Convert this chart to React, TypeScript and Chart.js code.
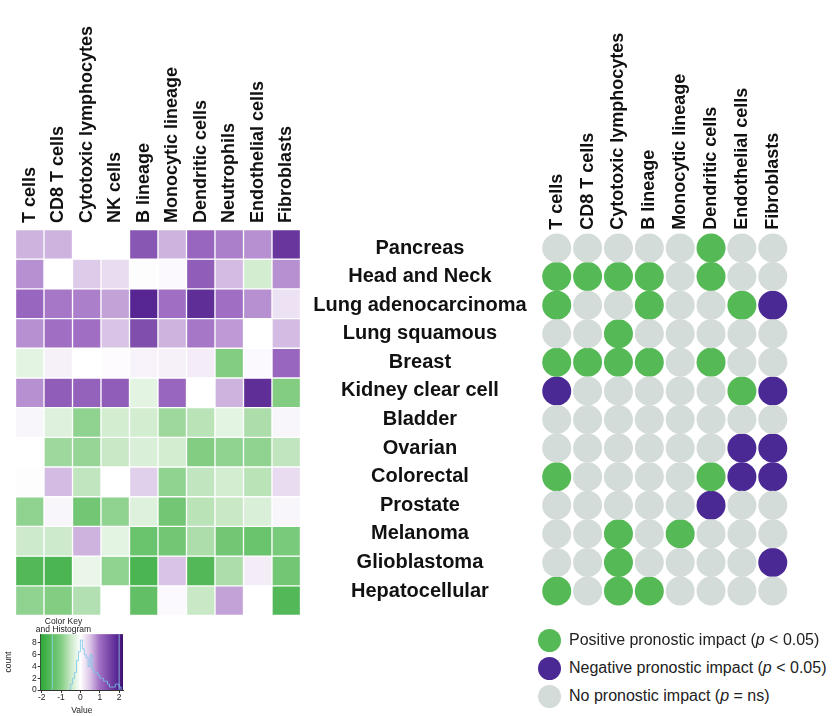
import React, { useEffect, useRef } from 'react';
import { Chart, registerables } from 'chart.js';

Chart.register(...registerables);

const FONT = "'Liberation Sans', Arial, Helvetica, sans-serif";

// ---------- categories ----------
const heatCols = ['T cells', 'CD8 T cells', 'Cytotoxic lymphocytes', 'NK cells', 'B lineage', 'Monocytic lineage', 'Dendritic cells', 'Neutrophils', 'Endothelial cells', 'Fibroblasts'];
const dotCols = ['T cells', 'CD8 T cells', 'Cytotoxic lymphocytes', 'B lineage', 'Monocytic lineage', 'Dendritic cells', 'Endothelial cells', 'Fibroblasts'];
const cancers = ['Pancreas', 'Head and Neck', 'Lung adenocarcinoma', 'Lung squamous', 'Breast', 'Kidney clear cell', 'Bladder', 'Ovarian', 'Colorectal', 'Prostate', 'Melanoma', 'Glioblastoma', 'Hepatocellular'];

// ---------- heatmap values (z-score, -2 green .. +2 purple) ----------
const heatPancreas = [0.6, 0.6, 0, 0, 1.3, 0.6, 1.1, 0.9, 0.8, 1.7];
const heatHeadNeck = [0.8, 0, 0.45, 0.3, 0.02, 0.05, 1.2, 0.55, -0.4, 0.8];
const heatLungAdeno = [1.1, 0.95, 0.9, 0.7, 1.9, 1.0, 1.8, 1.0, 0.8, 0.25];
const heatLungSquam = [0.8, 1.0, 1.0, 0.5, 1.4, 0.6, 0.95, 0.75, 0, 0.55];
const heatBreast = [-0.25, 0.12, 0, 0.03, 0.1, 0.12, 0.15, -1.0, 0.05, 1.1];
const heatKidney = [0.8, 1.2, 1.15, 1.2, -0.25, 1.1, 0, 0.6, 1.8, -1.0];
const heatBladder = [0.08, -0.3, -0.9, -0.4, -0.4, -0.8, -0.6, -0.25, -0.7, 0.08];
const heatOvarian = [0, -0.8, -0.85, -0.5, -0.35, -0.4, -1.0, -0.9, -0.9, -0.55];
const heatColorectal = [0.02, 0.55, -0.55, 0, 0.4, -0.9, -0.55, -0.4, -0.6, 0.3];
const heatProstate = [-0.9, 0.08, -1.2, -0.9, -0.3, -1.2, -0.6, -0.5, -0.35, 0.08];
const heatMelanoma = [-0.45, -0.45, 0.6, -0.25, -1.3, -1.2, -0.7, -1.2, -1.3, -1.1];
const heatGlioblastoma = [-1.6, -1.7, -0.2, -0.9, -1.7, 0.5, -1.6, -0.7, 0.15, -1.2];
const heatHepato = [-0.9, -1.0, -0.65, 0, -1.4, 0.05, -0.5, 0.7, 0, -1.6];
const heatRows = [heatPancreas, heatHeadNeck, heatLungAdeno, heatLungSquam, heatBreast, heatKidney, heatBladder, heatOvarian, heatColorectal, heatProstate, heatMelanoma, heatGlioblastoma, heatHepato];

// ---------- prognostic impact (1 positive, -1 negative, 0 ns) ----------
const dotPancreas = [0, 0, 0, 0, 0, 1, 0, 0];
const dotHeadNeck = [1, 1, 1, 1, 0, 1, 0, 0];
const dotLungAdeno = [1, 0, 0, 1, 0, 0, 1, -1];
const dotLungSquam = [0, 0, 1, 0, 0, 0, 0, 0];
const dotBreast = [1, 1, 1, 1, 0, 1, 0, 0];
const dotKidney = [-1, 0, 0, 0, 0, 0, 1, -1];
const dotBladder = [0, 0, 0, 0, 0, 0, 0, 0];
const dotOvarian = [0, 0, 0, 0, 0, 0, -1, -1];
const dotColorectal = [1, 0, 0, 0, 0, 1, -1, -1];
const dotProstate = [0, 0, 0, 0, 0, -1, 0, 0];
const dotMelanoma = [0, 0, 1, 0, 1, 0, 0, 0];
const dotGlioblastoma = [0, 0, 1, 0, 0, 0, 0, -1];
const dotHepato = [1, 0, 1, 1, 0, 0, 0, 0];
const dotRows = [dotPancreas, dotHeadNeck, dotLungAdeno, dotLungSquam, dotBreast, dotKidney, dotBladder, dotOvarian, dotColorectal, dotProstate, dotMelanoma, dotGlioblastoma, dotHepato];

// ---------- color key histogram ----------
const histBins = [-0.6, -0.5, -0.4, -0.3, -0.2, -0.1, 0, 0.1, 0.2, 0.3, 0.4, 0.5, 0.6, 0.7, 0.8, 0.9, 1.0, 1.1, 1.2, 1.3, 1.4, 1.5, 1.6, 1.7, 1.8, 1.9, 2.0, 2.1];
const histCounts = [0, 1, 2, 3, 5, 6.5, 8.5, 7, 6, 5.5, 4, 6, 3.5, 3, 3, 2.5, 2, 2, 1.5, 1.5, 1, 0.5, 0.5, 0.5, 1, 1, 0.5, 0];
const keyLines = [-1.45, 2.0];
const keyTicksX = [-2, -1, 0, 1, 2];
const keyTicksY = [0, 2, 4, 6, 8];

// ---------- styles ----------
const stopVals = [-2, -1, -0.5, 0, 0.5, 1, 2];
const stopRGB = [[50, 170, 60], [130, 205, 130], [200, 232, 198], [255, 255, 255], [218, 196, 230], [160, 110, 195], [80, 30, 140]];
const POS = '#55b955';
const NEG = '#4b2995';
const NS = '#d3dcd8';

function valueColor(v: number): string {
  const x = Math.max(stopVals[0], Math.min(stopVals[stopVals.length - 1], v));
  for (let i = 0; i < stopVals.length - 1; i++) {
    if (x <= stopVals[i + 1]) {
      const t = (x - stopVals[i]) / (stopVals[i + 1] - stopVals[i]);
      const a = stopRGB[i], b = stopRGB[i + 1];
      const c = a.map((ai, k) => Math.round(ai + (b[k] - ai) * t));
      return `rgb(${c[0]},${c[1]},${c[2]})`;
    }
  }
  return 'rgb(80,30,140)';
}

const noPad = (s: any) => { s.paddingTop = 0; s.paddingBottom = 0; s.paddingLeft = 0; s.paddingRight = 0; };

export default function App() {
  const heatRef = useRef<HTMLCanvasElement>(null);
  const dotRef = useRef<HTMLCanvasElement>(null);
  const keyRef = useRef<HTMLCanvasElement>(null);

  useEffect(() => {
    Chart.defaults.font.family = FONT;
    const charts: Chart[] = [];
    const labelFont = { size: 18, weight: 'bold', lineHeight: 0 };

    // Heatmap
    charts.push(new Chart(heatRef.current!, {
      type: 'bar',
      data: {
        labels: heatCols,
        datasets: cancers.map((name, r) => ({
          label: name,
          data: heatCols.map(() => 1),
          backgroundColor: heatRows[r].map(valueColor),
          borderColor: '#ffffff',
          borderWidth: 1,
          borderSkipped: false,
          barPercentage: 1,
          categoryPercentage: 1,
        })),
      },
      options: {
        animation: false,
        responsive: false,
        events: [],
        layout: { padding: { left: 15.5, right: 9.5, top: 0, bottom: 9.5 } },
        plugins: { legend: { display: false }, tooltip: { enabled: false } },
        scales: {
          x: {
            position: 'top',
            stacked: true,
            grid: { display: false, drawTicks: false },
            border: { display: false },
            ticks: { minRotation: 90, maxRotation: 90, autoSkip: false, padding: 6.5, color: '#111', font: labelFont },
            afterFit: (s: any) => { s.height = 229.5; noPad(s); },
          },
          y: { stacked: true, reverse: true, min: 0, max: 13, display: false },
        },
      } as any,
    }));

    // Dot matrix
    const pts = (status: number) => {
      const out: { x: string; y: string }[] = [];
      dotRows.forEach((row, r) => row.forEach((s, c) => { if (s === status) out.push({ x: dotCols[c], y: cancers[r] }); }));
      return out;
    };
    const dotDs = (label: string, status: number, color: string) => ({
      label, data: pts(status), backgroundColor: color, borderWidth: 0, pointRadius: 14.5, pointHoverRadius: 14.5,
    });
    charts.push(new Chart(dotRef.current!, {
      type: 'scatter',
      data: {
        datasets: [
          dotDs('No pronostic impact', 0, NS),
          dotDs('Positive pronostic impact', 1, POS),
          dotDs('Negative pronostic impact', -1, NEG),
        ],
      },
      options: {
        animation: false,
        responsive: false,
        events: [],
        layout: { padding: { left: 0, right: 51.8, top: 0, bottom: 19.7 } },
        plugins: { legend: { display: false }, tooltip: { enabled: false } },
        scales: {
          x: {
            type: 'category',
            labels: dotCols,
            offset: true,
            position: 'top',
            grid: { display: false, drawTicks: false },
            border: { display: false },
            ticks: { minRotation: 90, maxRotation: 90, autoSkip: false, padding: 4, color: '#111', font: labelFont },
            afterFit: (s: any) => { s.height = 233.7; noPad(s); },
          },
          y: {
            type: 'category',
            labels: cancers,
            offset: true,
            position: 'left',
            grid: { display: false, drawTicks: false },
            border: { display: false },
            ticks: { crossAlign: 'center', autoSkip: false, padding: 14.7, color: '#111', font: { size: 20, weight: 'bold' } },
            afterFit: (s: any) => { s.width = 241.3; noPad(s); },
          },
        },
      } as any,
    }));

    // Color key
    const gradientPlugin = {
      id: 'keyGradient',
      beforeDatasetsDraw(chart: any) {
        const { ctx, chartArea: a, scales } = chart;
        const xs = scales.x;
        const g = ctx.createLinearGradient(a.left, 0, a.right, 0);
        const vals = [-2.05, ...stopVals, 2.2];
        vals.forEach((v) => {
          const off = (xs.getPixelForValue(v) - a.left) / (a.right - a.left);
          g.addColorStop(Math.max(0, Math.min(1, off)), v >= 2.1 ? 'rgb(60,15,105)' : valueColor(v));
        });
        ctx.save();
        ctx.fillStyle = g;
        ctx.fillRect(a.left, a.top, a.right - a.left, a.bottom - a.top);
        ctx.restore();
      },
    };
    const smallFont = { size: 8.5 };
    charts.push(new Chart(keyRef.current!, {
      type: 'line',
      data: {
        datasets: [
          { label: 'Histogram', data: histBins.map((b, i) => ({ x: b, y: histCounts[i] })), stepped: true, borderColor: 'rgba(120,200,235,0.8)', borderWidth: 1, pointRadius: 0, fill: false },
          ...keyLines.map((v) => ({ label: 'line', data: [{ x: v, y: 0 }, { x: v, y: 9.5 }], borderColor: 'rgba(150,215,240,0.8)', borderWidth: 1, pointRadius: 0, fill: false })),
        ],
      },
      options: {
        animation: false,
        responsive: false,
        events: [],
        layout: { padding: { left: 4, right: 17, top: 0, bottom: 0 } },
        plugins: {
          legend: { display: false },
          tooltip: { enabled: false },
          title: { display: true, text: ['Color Key', 'and Histogram'], color: '#222', font: { size: 8.5, weight: 'normal', lineHeight: 0.95 }, padding: { top: 0, bottom: 0 } },
        },
        scales: {
          x: {
            type: 'linear', min: -2.05, max: 2.2,
            afterBuildTicks: (s: any) => { s.ticks = keyTicksX.map((v) => ({ value: v })); },
            ticks: { color: '#222', font: smallFont, padding: 0 },
            grid: { drawOnChartArea: false, tickLength: 3, color: '#333' },
            border: { color: '#333' },
            title: { display: true, text: 'Value', color: '#222', font: smallFont, padding: 0 },
            afterFit: (s: any) => { s.height = 26; },
          },
          y: {
            type: 'linear', min: 0, max: 9.5,
            afterBuildTicks: (s: any) => { s.ticks = keyTicksY.map((v) => ({ value: v })); },
            ticks: { color: '#222', font: smallFont, padding: 1 },
            grid: { drawOnChartArea: false, tickLength: 3, color: '#333' },
            border: { color: '#333' },
            title: { display: true, text: 'count', color: '#222', font: smallFont, padding: 0 },
            afterFit: (s: any) => { s.width = 36.7; },
          },
        },
      } as any,
      plugins: [gradientPlugin],
    }));

    return () => charts.forEach((c) => c.destroy());
  }, []);

  const legendItems = [
    { color: POS, pre: 'Positive pronostic impact (', it: 'p', post: ' < 0.05)', top: 628 },
    { color: NEG, pre: 'Negative pronostic impact (', it: 'p', post: ' < 0.05)', top: 656 },
    { color: NS, pre: 'No pronostic impact (', it: 'p', post: ' = ns)', top: 684 },
  ];

  return (
    <div style={{ position: 'absolute', left: 0, top: 0, width: 840, height: 716, background: '#ffffff', overflow: 'hidden', fontFamily: FONT }}>
      <canvas ref={heatRef} width={310} height={625} style={{ position: 'absolute', left: 0, top: 0, width: 310, height: 625 }} />
      <canvas ref={dotRef} width={540} height={625} style={{ position: 'absolute', left: 300, top: 0, width: 540, height: 625 }} />
      <canvas ref={keyRef} width={140} height={98} style={{ position: 'absolute', left: 0, top: 618, width: 140, height: 98 }} />
      {legendItems.map((l, i) => (
        <div key={i} style={{ position: 'absolute', left: 538, top: l.top, height: 24, display: 'flex', alignItems: 'center', whiteSpace: 'nowrap' }}>
          <span style={{ display: 'inline-block', width: 23, height: 23, borderRadius: '50%', background: l.color }} />
          <span style={{ marginLeft: 8, fontSize: 16, color: '#222', lineHeight: '24px' }}>
            {l.pre}<i>{l.it}</i>{l.post}
          </span>
        </div>
      ))}
    </div>
  );
}
